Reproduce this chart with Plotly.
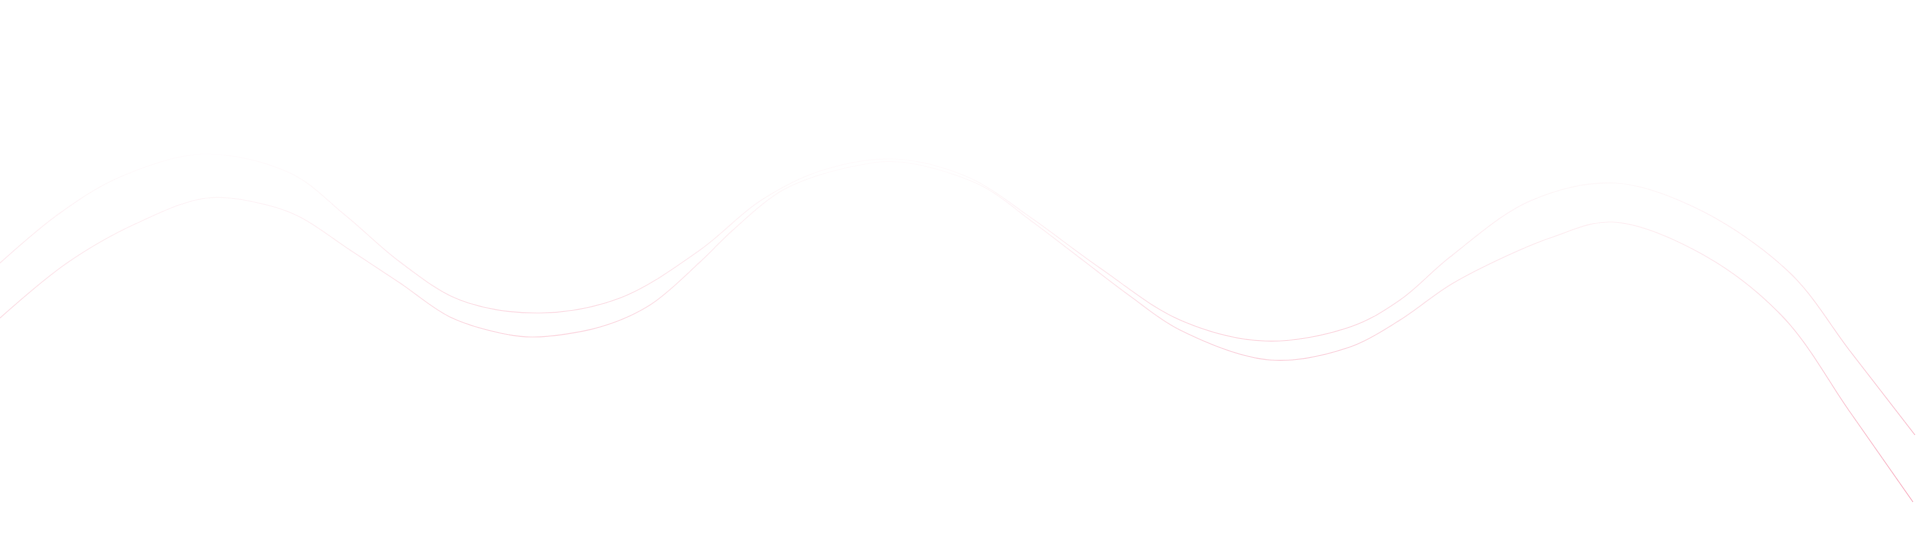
"""Two thin pink wave lines on a white canvas."""

import plotly.graph_objects as go

# Control points (x: px from left, y: px from top)
upper_x = [0, 60, 120, 203, 290, 345, 400, 460, 540, 620, 700, 760, 820, 895,
           970, 1030, 1100, 1180, 1265, 1350, 1400, 1450, 1530, 1615, 1700, 1790, 1850, 1915]
upper_y = [263, 213, 177, 154, 173, 215, 262, 300, 313, 298, 250, 201, 171, 159,
           178, 217, 268, 320, 341, 327, 300, 257, 201, 183, 210, 273, 351, 435]

lower_x = [0, 67, 133, 207, 267, 300, 350, 400, 450, 500, 533, 600, 650, 700, 733, 783,
           850, 900, 980, 1030, 1080, 1130, 1180, 1270, 1350, 1400, 1450, 1500, 1550,
           1612, 1700, 1783, 1850, 1913]
lower_y = [318, 263, 225, 198, 205, 217, 250, 283, 317, 333, 337, 327, 305, 262, 230, 190,
           167, 162, 185, 220, 258, 296, 330, 360, 347, 320, 285, 259, 238,
           222, 253, 317, 412, 502]

W, H = 1920, 558
N_BANDS = 90  # thin horizontal strips, each clipped by its own y axis -> vertical colour fade


def band_color(y_mid):
    # lines are almost white near the top and turn pink further down
    t = min(max((y_mid - 140) / 370, 0.0), 1.0)
    alpha = 0.52 * t ** 1.1
    return f"rgba(242,120,150,{alpha:.3f})"


fig = go.Figure()
layout = {}
for k in range(N_BANDS):
    y0 = H * k / N_BANDS
    y1 = H * (k + 1) / N_BANDS
    name = "y" if k == 0 else f"y{k + 1}"
    axis_key = "yaxis" if k == 0 else f"yaxis{k + 1}"
    color = band_color((y0 + y1) / 2)
    for xs, ys in ((upper_x, upper_y), (lower_x, lower_y)):
        fig.add_trace(go.Scatter(
            x=xs, y=ys, mode="lines", xaxis="x", yaxis=name,
            line=dict(color=color, width=1.1, shape="spline", smoothing=1.0),
            hoverinfo="skip", showlegend=False,
        ))
    layout[axis_key] = dict(
        domain=[1 - y1 / H, 1 - y0 / H], range=[y1, y0],
        visible=False, fixedrange=True, anchor="x",
    )

fig.update_layout(
    width=W, height=H,
    margin=dict(l=0, r=0, t=0, b=0),
    paper_bgcolor="white", plot_bgcolor="white",
    xaxis=dict(range=[0, W], visible=False, fixedrange=True),
    **layout,
)

# drop the default page margin so the canvas sits at the window's top-left corner
fig.write_html(
    "out.html",
    config={"displayModeBar": False},
    post_script="document.body.style.margin='0';document.body.style.overflow='hidden';",
)
